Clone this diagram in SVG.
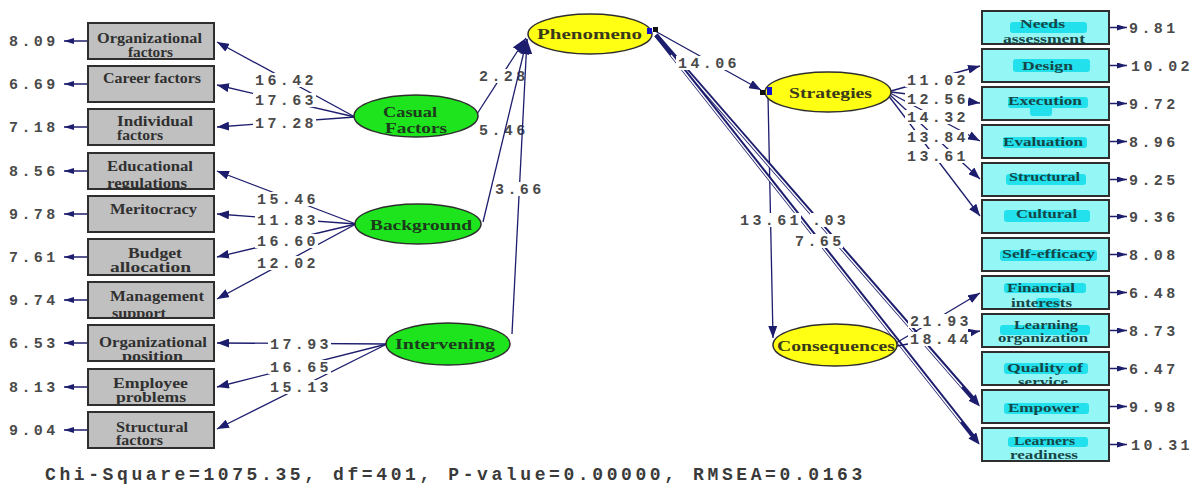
<svg xmlns="http://www.w3.org/2000/svg" width="1199" height="484" viewBox="0 0 1199 484">
<style>
.lbox{fill:#c0c0c0;stroke:#2e2e2e;stroke-width:2}
.rbox{fill:#95f6f6;stroke:#2e2e2e;stroke-width:2}
.hl{fill:#22e0ec}
.gel{fill:#1ee41e;stroke:#2e2e2e;stroke-width:1.5}
.yel{fill:#ffff14;stroke:#2e2e2e;stroke-width:1.5}
.lt{font-family:"Liberation Serif",serif;font-size:14px;font-weight:bold;fill:#303030}
.rt{font-family:"Liberation Serif",serif;font-size:13px;font-weight:bold;fill:#164646}
.gt{font-family:"Liberation Serif",serif;font-size:15px;font-weight:bold;fill:#1c3a1c}
.yt{font-family:"Liberation Serif",serif;font-size:15px;font-weight:bold;fill:#3a3a1a}
.bg{fill:#fff}
.num{font-family:"Liberation Mono",monospace;font-size:15px;font-weight:bold;fill:#4a4a4a;letter-spacing:3.4px}
.err{font-family:"Liberation Mono",monospace;font-size:15px;font-weight:bold;fill:#4a4a4a;letter-spacing:3.4px}
.foot{font-family:"Liberation Mono",monospace;font-size:18px;font-weight:bold;fill:#3a3a3a;letter-spacing:3.6px}
.c{stroke:#1d1d6e;stroke-width:1.3;fill:none;marker-end:url(#ah)}
.cb{stroke:#1d1d6e;stroke-width:1.3;fill:none;marker-end:url(#ahb)}
.dbl{stroke:#1d1d6e;stroke-width:4.2;fill:none;marker-end:url(#ahd)}
.dbw{stroke:#fff;stroke-width:1.4;fill:none}
.e{stroke:#1d1d6e;stroke-width:1.5;fill:none;marker-end:url(#ahs)}
</style>
<defs>
<marker id="ah" markerUnits="userSpaceOnUse" markerWidth="12" markerHeight="9" refX="12" refY="4.5" orient="auto"><path d="M0,0 L12,4.5 L0,9 z" fill="#1d1d6e"/></marker>
<marker id="ahb" markerUnits="userSpaceOnUse" markerWidth="15" markerHeight="12" refX="15" refY="6" orient="auto"><path d="M0,0 L15,6 L0,12 z" fill="#1d1d6e"/></marker>
<marker id="ahd" markerUnits="userSpaceOnUse" markerWidth="12" markerHeight="10" refX="6" refY="5" orient="auto"><path d="M0,0 L12,5 L0,10 z" fill="#1d1d6e"/></marker>
<marker id="ahs" markerUnits="userSpaceOnUse" markerWidth="10" markerHeight="6" refX="10" refY="3" orient="auto"><path d="M0,0 L10,3 L0,6 z" fill="#1d1d6e"/></marker>
<clipPath id="clipL">
<rect x="89" y="24" width="124" height="34"/><rect x="89" y="67" width="124" height="34"/><rect x="89" y="110" width="124" height="34"/><rect x="89" y="154" width="124" height="34"/><rect x="89" y="197" width="124" height="34"/><rect x="89" y="240" width="124" height="34"/><rect x="89" y="283" width="124" height="34"/><rect x="89" y="326" width="124" height="34"/><rect x="89" y="370" width="124" height="34"/><rect x="89" y="413" width="124" height="34"/>
</clipPath>
<clipPath id="clipR">
<rect x="983" y="12" width="125" height="31"/><rect x="983" y="50" width="125" height="31"/><rect x="983" y="88" width="125" height="31"/><rect x="983" y="126" width="125" height="31"/><rect x="983" y="164" width="125" height="31"/><rect x="983" y="201" width="125" height="31"/><rect x="983" y="239" width="125" height="31"/><rect x="983" y="277" width="125" height="31"/><rect x="983" y="315" width="125" height="31"/><rect x="983" y="353" width="125" height="31"/><rect x="983" y="391" width="125" height="31"/><rect x="983" y="429" width="125" height="31"/>
</clipPath>
</defs>
<rect width="1199" height="484" fill="#fff"/>

<g id="connectors">
<path class="e" d="M88 41 H64"/><path class="e" d="M88 84 H64"/><path class="e" d="M88 127 H64"/><path class="e" d="M88 171 H64"/><path class="e" d="M88 214 H64"/><path class="e" d="M88 257 H64"/><path class="e" d="M88 300 H64"/><path class="e" d="M88 343 H64"/><path class="e" d="M88 387 H64"/><path class="e" d="M88 430 H64"/>
<path class="e" d="M1110 27.5 H1127"/><path class="e" d="M1110 65.5 H1127"/><path class="e" d="M1110 103.5 H1127"/><path class="e" d="M1110 141.5 H1127"/><path class="e" d="M1110 179.5 H1127"/><path class="e" d="M1110 216.5 H1127"/><path class="e" d="M1110 254.5 H1127"/><path class="e" d="M1110 292.5 H1127"/><path class="e" d="M1110 330.5 H1127"/><path class="e" d="M1110 368.5 H1127"/><path class="e" d="M1110 406.5 H1127"/><path class="e" d="M1110 444.5 H1127"/>
<path class="c" d="M355 117 L217 42"/>
<path class="c" d="M355 117 L217 85"/>
<path class="c" d="M355 117 L217 127"/>
<path class="c" d="M356 224 L217 171"/>
<path class="c" d="M356 224 L217 214"/>
<path class="c" d="M356 224 L217 257"/>
<path class="c" d="M356 224 L217 299"/>
<path class="c" d="M387 344 L217 343"/>
<path class="c" d="M387 344 L217 387"/>
<path class="c" d="M387 344 L217 429"/>
<path class="cb" d="M477 114 L526 38"/>
<path class="c" d="M655 31 L761 90"/>
<path class="c" d="M768 96 L773 338"/>
<path class="dbl" d="M656 35 L976 402"/>
<path class="dbw" d="M672 54 L962 387"/>
<path class="dbl" d="M656 35 L976 440"/>
<path class="dbw" d="M671 55 L961 422"/>
<path class="c" d="M891 91 L980 66"/>
<path class="c" d="M891 92 L980 103"/>
<path class="c" d="M890 93 L980 141"/>
<path class="c" d="M889 94 L980 179"/>
<path class="c" d="M888 95 L980 216"/>
<path class="c" d="M896 343 L980 293"/>
<path class="c" d="M897 346 L980 331"/>
</g>

<g id="labels">
<rect class="bg" x="253" y="73" width="63" height="14"/><text class="num" x="255" y="85">16.42</text>
<rect class="bg" x="253" y="93" width="63" height="14"/><text class="num" x="255" y="105">17.63</text>
<rect class="bg" x="253" y="116" width="63" height="14"/><text class="num" x="255" y="128">17.28</text>
<rect class="bg" x="255" y="192" width="63" height="14"/><text class="num" x="257" y="204">15.46</text>
<rect class="bg" x="255" y="213" width="63" height="14"/><text class="num" x="257" y="225">11.83</text>
<rect class="bg" x="255" y="234" width="63" height="14"/><text class="num" x="257" y="246">16.60</text>
<rect class="bg" x="255" y="256" width="63" height="14"/><text class="num" x="257" y="268">12.02</text>
<rect class="bg" x="268" y="337" width="63" height="14"/><text class="num" x="270" y="349">17.93</text>
<rect class="bg" x="268" y="360" width="63" height="14"/><text class="num" x="270" y="372">16.65</text>
<rect class="bg" x="268" y="380" width="63" height="14"/><text class="num" x="270" y="392">15.13</text>
<rect class="bg" x="477" y="69" width="50" height="14"/><text class="num" x="479" y="81">2.28</text>
<rect class="bg" x="477" y="123" width="50" height="14"/><text class="num" x="479" y="135">5.46</text>
<rect class="bg" x="676" y="56" width="63" height="14"/><text class="num" x="678" y="68">14.06</text>
<rect class="bg" x="738" y="213" width="63" height="14"/><text class="num" x="740" y="225">13.61</text>
<rect class="bg" x="810" y="213" width="38" height="14"/><text class="num" x="812" y="225">.03</text>
<rect class="bg" x="793" y="234" width="50" height="14"/><text class="num" x="795" y="246">7.65</text>
<rect class="bg" x="905" y="73" width="63" height="14"/><text class="num" x="907" y="85">11.02</text>
<rect class="bg" x="905" y="92" width="63" height="14"/><text class="num" x="907" y="104">12.56</text>
<rect class="bg" x="905" y="110" width="63" height="14"/><text class="num" x="907" y="122">14.32</text>
<rect class="bg" x="905" y="130" width="63" height="14"/><text class="num" x="907" y="142">13.84</text>
<rect class="bg" x="905" y="149" width="63" height="14"/><text class="num" x="907" y="161">13.61</text>
<rect class="bg" x="908" y="314" width="63" height="14"/><text class="num" x="910" y="326">21.93</text>
<rect class="bg" x="908" y="332" width="63" height="14"/><text class="num" x="910" y="344">18.44</text>
<text class="err" x="9" y="46">8.09</text>
<text class="err" x="9" y="89">6.69</text>
<text class="err" x="9" y="132">7.18</text>
<text class="err" x="9" y="176">8.56</text>
<text class="err" x="9" y="219">9.78</text>
<text class="err" x="9" y="262">7.61</text>
<text class="err" x="9" y="305">9.74</text>
<text class="err" x="9" y="348">6.53</text>
<text class="err" x="9" y="392">8.13</text>
<text class="err" x="9" y="435">9.04</text>
<text class="err" x="1129" y="32.5">9.81</text>
<text class="err" x="1131" y="70.5">10.02</text>
<text class="err" x="1129" y="108.5">9.72</text>
<text class="err" x="1129" y="146.5">8.96</text>
<text class="err" x="1129" y="184.5">9.25</text>
<text class="err" x="1129" y="221.5">9.36</text>
<text class="err" x="1129" y="259.5">8.08</text>
<text class="err" x="1129" y="297.5">6.48</text>
<text class="err" x="1129" y="335.5">8.73</text>
<text class="err" x="1129" y="373.5">6.47</text>
<text class="err" x="1129" y="411.5">9.98</text>
<text class="err" x="1131" y="449.5">10.31</text>
</g>

<g id="connectors-to-phenomeno">
<path class="cb" d="M483 222 L527 39"/>
<path class="cb" d="M512 334 L527 39"/>
<rect class="bg" x="493" y="182" width="50" height="14"/><text class="num" x="495" y="194">3.66</text>
</g>

<g id="organizational-factors"><rect class="lbox" x="88" y="23" width="126" height="36"/><g clip-path="url(#clipL)"><text class="lt" x="97" y="43" textLength="105" lengthAdjust="spacingAndGlyphs">Organizational</text><text class="lt" x="128" y="57" textLength="45" lengthAdjust="spacingAndGlyphs">factors</text></g></g>
<g id="career-factors"><rect class="lbox" x="88" y="66" width="126" height="36"/><g clip-path="url(#clipL)"><text class="lt" x="103" y="83" textLength="98" lengthAdjust="spacingAndGlyphs">Career factors</text></g></g>
<g id="individual-factors"><rect class="lbox" x="88" y="109" width="126" height="36"/><g clip-path="url(#clipL)"><text class="lt" x="117" y="126" textLength="76" lengthAdjust="spacingAndGlyphs">Individual</text><text class="lt" x="117" y="140" textLength="46" lengthAdjust="spacingAndGlyphs">factors</text></g></g>
<g id="educational-regulations"><rect class="lbox" x="88" y="153" width="126" height="36"/><g clip-path="url(#clipL)"><text class="lt" x="107" y="171" textLength="86" lengthAdjust="spacingAndGlyphs">Educational</text><text class="lt" x="107" y="188" textLength="80" lengthAdjust="spacingAndGlyphs">regulations</text></g></g>
<g id="meritocracy"><rect class="lbox" x="88" y="196" width="126" height="36"/><g clip-path="url(#clipL)"><text class="lt" x="110" y="214" textLength="87" lengthAdjust="spacingAndGlyphs">Meritocracy</text></g></g>
<g id="budget-allocation"><rect class="lbox" x="88" y="239" width="126" height="36"/><g clip-path="url(#clipL)"><text class="lt" x="128" y="258" textLength="54" lengthAdjust="spacingAndGlyphs">Budget</text><text class="lt" x="110" y="272" textLength="81" lengthAdjust="spacingAndGlyphs">allocation</text></g></g>
<g id="management-support"><rect class="lbox" x="88" y="282" width="126" height="36"/><g clip-path="url(#clipL)"><text class="lt" x="110" y="301" textLength="94" lengthAdjust="spacingAndGlyphs">Management</text><text class="lt" x="112" y="318" textLength="54" lengthAdjust="spacingAndGlyphs">support</text></g></g>
<g id="organizational-position"><rect class="lbox" x="88" y="325" width="126" height="36"/><g clip-path="url(#clipL)"><text class="lt" x="99" y="347" textLength="108" lengthAdjust="spacingAndGlyphs">Organizational</text><text class="lt" x="122" y="361" textLength="61" lengthAdjust="spacingAndGlyphs">position</text></g></g>
<g id="employee-problems"><rect class="lbox" x="88" y="369" width="126" height="36"/><g clip-path="url(#clipL)"><text class="lt" x="113" y="388" textLength="75" lengthAdjust="spacingAndGlyphs">Employee</text><text class="lt" x="116" y="402" textLength="70" lengthAdjust="spacingAndGlyphs">problems</text></g></g>
<g id="structural-factors"><rect class="lbox" x="88" y="412" width="126" height="36"/><g clip-path="url(#clipL)"><text class="lt" x="116" y="432" textLength="72" lengthAdjust="spacingAndGlyphs">Structural</text><text class="lt" x="116" y="445" textLength="47" lengthAdjust="spacingAndGlyphs">factors</text></g></g>

<g id="casual-factors"><ellipse class="gel" cx="416" cy="116" rx="62" ry="21"/><text class="gt" x="383" y="117" textLength="54" lengthAdjust="spacingAndGlyphs">Casual</text><text class="gt" x="385" y="133" textLength="62" lengthAdjust="spacingAndGlyphs">Factors</text></g>
<g id="background"><ellipse class="gel" cx="418" cy="224" rx="63" ry="20"/><text class="gt" x="370" y="230" textLength="102" lengthAdjust="spacingAndGlyphs">Background</text></g>
<g id="intervening"><ellipse class="gel" cx="448" cy="344" rx="62" ry="21"/><text class="gt" x="395" y="349" textLength="100" lengthAdjust="spacingAndGlyphs">Intervening</text></g>
<g id="phenomeno"><ellipse class="yel" cx="590" cy="34" rx="62" ry="20"/><text class="yt" x="537" y="39" textLength="105" lengthAdjust="spacingAndGlyphs">Phenomeno</text><rect x="647" y="28" width="5" height="6" fill="#1414c8"/><rect x="653" y="27" width="5" height="5" fill="#111"/></g>
<g id="strategies"><ellipse class="yel" cx="828" cy="92" rx="63" ry="20"/><text class="yt" x="789" y="98" textLength="83" lengthAdjust="spacingAndGlyphs">Strategies</text><rect x="760" y="90" width="5" height="5" fill="#111"/><rect x="767" y="87" width="5" height="8" fill="#1414c8"/></g>
<g id="consequences"><ellipse class="yel" cx="835" cy="345" rx="62" ry="21"/><text class="yt" x="777" y="351" textLength="118" lengthAdjust="spacingAndGlyphs">Consequences</text></g>

<g id="needs-assessment"><rect class="rbox" x="982" y="11" width="127" height="33"/><rect class="hl" x="1010" y="22" width="77" height="11" rx="3"/><g clip-path="url(#clipR)"><text class="rt" x="1020" y="28" textLength="45" lengthAdjust="spacingAndGlyphs">Needs</text><text class="rt" x="1003" y="43" textLength="82" lengthAdjust="spacingAndGlyphs">assessment</text></g></g>
<g id="design"><rect class="rbox" x="982" y="49" width="127" height="33"/><rect class="hl" x="1013" y="59" width="77" height="13" rx="3"/><text class="rt" x="1022" y="70" textLength="51" lengthAdjust="spacingAndGlyphs">Design</text></g>
<g id="execution"><rect class="rbox" x="982" y="87" width="127" height="33"/><rect class="hl" x="1008" y="97" width="80" height="11" rx="3"/><rect class="hl" x="1030" y="105" width="22" height="11" rx="3"/><text class="rt" x="1008" y="105" textLength="74" lengthAdjust="spacingAndGlyphs">Execution</text></g>
<g id="evaluation"><rect class="rbox" x="982" y="125" width="127" height="33"/><rect class="hl" x="1003" y="137" width="84" height="11" rx="3"/><text class="rt" x="1003" y="146" textLength="80" lengthAdjust="spacingAndGlyphs">Evaluation</text></g>
<g id="structural"><rect class="rbox" x="982" y="163" width="127" height="33"/><rect class="hl" x="1006" y="174" width="80" height="11" rx="3"/><text class="rt" x="1009" y="181" textLength="71" lengthAdjust="spacingAndGlyphs">Structural</text></g>
<g id="cultural"><rect class="rbox" x="982" y="200" width="127" height="33"/><rect class="hl" x="1004" y="210" width="86" height="12" rx="3"/><text class="rt" x="1016" y="218" textLength="61" lengthAdjust="spacingAndGlyphs">Cultural</text></g>
<g id="self-efficacy"><rect class="rbox" x="982" y="238" width="127" height="33"/><rect class="hl" x="1000" y="250" width="97" height="11" rx="3"/><text class="rt" x="1002" y="258" textLength="93" lengthAdjust="spacingAndGlyphs">Self-efficacy</text></g>
<g id="financial-interests"><rect class="rbox" x="982" y="276" width="127" height="33"/><rect class="hl" x="1004" y="283" width="82" height="10" rx="3"/><rect class="hl" x="1036" y="298" width="24" height="10" rx="3"/><g clip-path="url(#clipR)"><text class="rt" x="1007" y="292" textLength="68" lengthAdjust="spacingAndGlyphs">Financial</text><text class="rt" x="1011" y="307" textLength="61" lengthAdjust="spacingAndGlyphs">interests</text></g></g>
<g id="learning-organization"><rect class="rbox" x="982" y="314" width="127" height="33"/><rect class="hl" x="1000" y="325" width="90" height="10" rx="3"/><g clip-path="url(#clipR)"><text class="rt" x="1014" y="329" textLength="64" lengthAdjust="spacingAndGlyphs">Learning</text><text class="rt" x="998" y="342" textLength="90" lengthAdjust="spacingAndGlyphs">organization</text></g></g>
<g id="quality-of-service"><rect class="rbox" x="982" y="352" width="127" height="33"/><rect class="hl" x="1004" y="363" width="84" height="11" rx="3"/><g clip-path="url(#clipR)"><text class="rt" x="1007" y="372" textLength="76" lengthAdjust="spacingAndGlyphs">Quality of</text><text class="rt" x="1018" y="386" textLength="50" lengthAdjust="spacingAndGlyphs">service</text></g></g>
<g id="empower"><rect class="rbox" x="982" y="390" width="127" height="33"/><rect class="hl" x="1004" y="403" width="85" height="11" rx="3"/><text class="rt" x="1008" y="412" textLength="71" lengthAdjust="spacingAndGlyphs">Empower</text></g>
<g id="learners-readiness"><rect class="rbox" x="982" y="428" width="127" height="33"/><rect class="hl" x="1008" y="437" width="80" height="10" rx="3"/><g clip-path="url(#clipR)"><text class="rt" x="1014" y="445" textLength="61" lengthAdjust="spacingAndGlyphs">Learners</text><text class="rt" x="1010" y="459" textLength="68" lengthAdjust="spacingAndGlyphs">readiness</text></g></g>

<text class="foot" x="45" y="480">Chi-Square=1075.35, df=401, P-value=0.00000, RMSEA=0.0163</text>
</svg>
